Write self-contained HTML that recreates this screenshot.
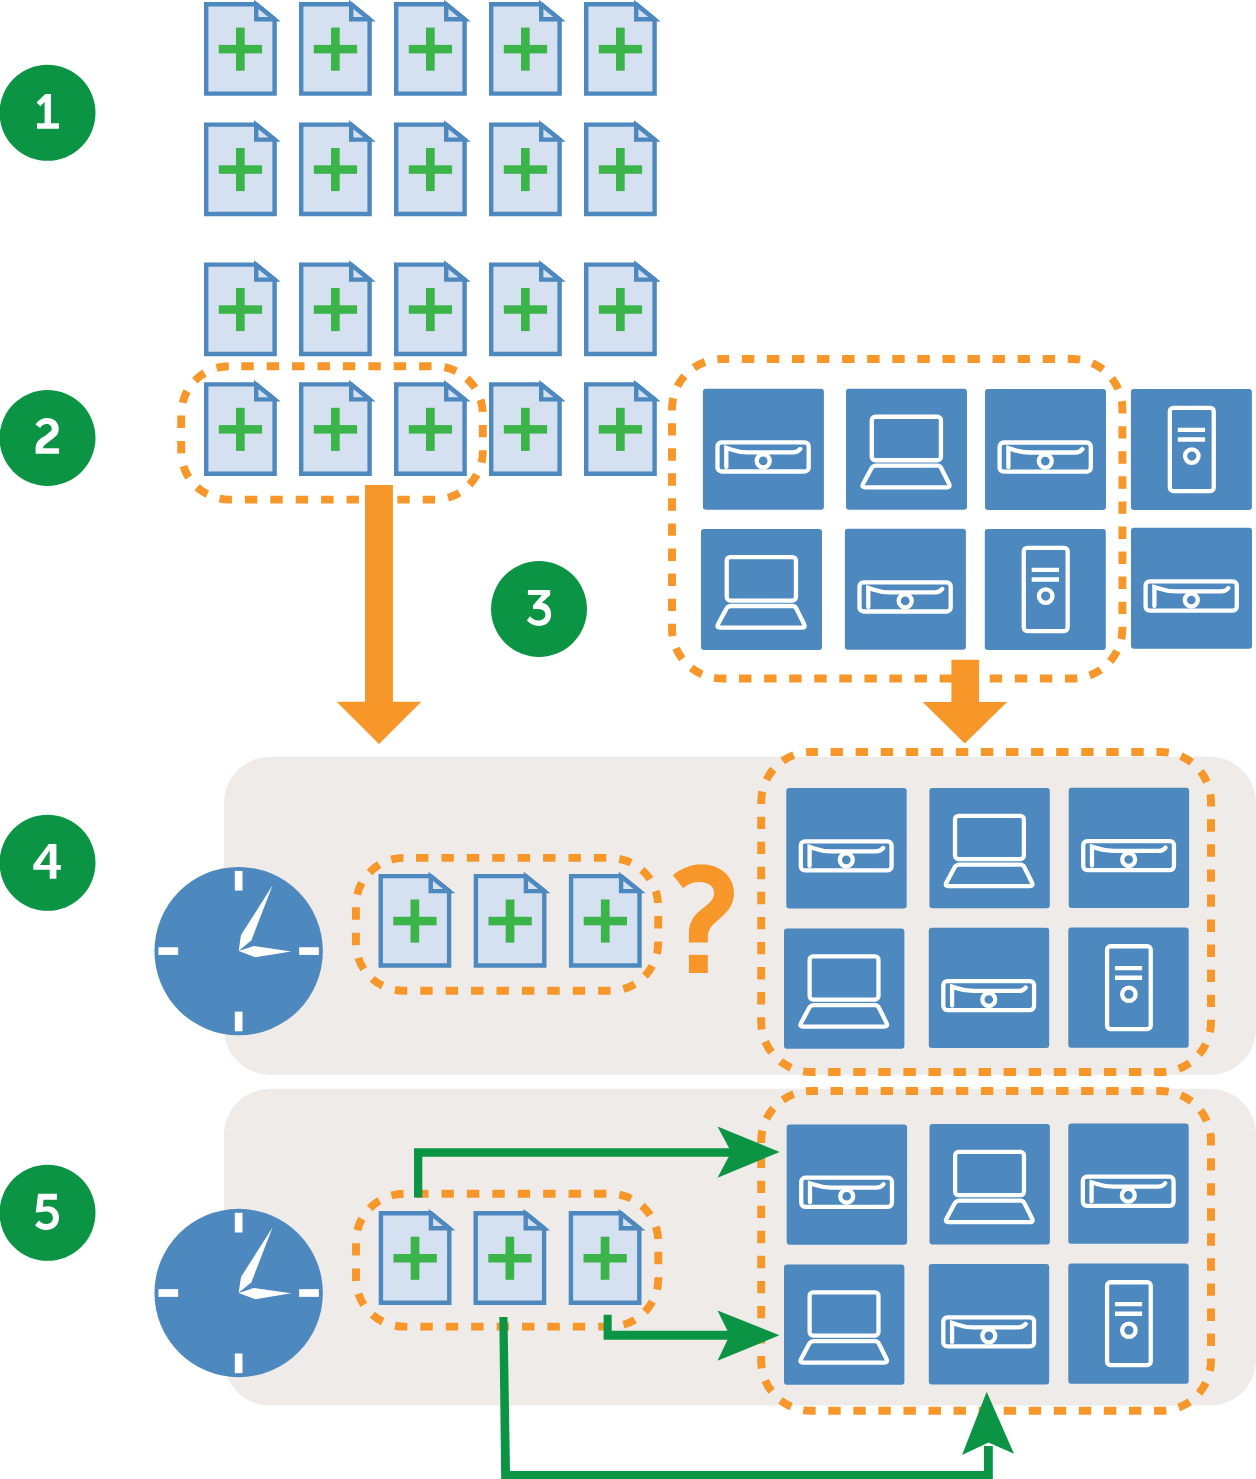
<!DOCTYPE html><html><head><meta charset="utf-8"><style>html,body{margin:0;padding:0;background:#fff;width:1256px;height:1479px;overflow:hidden}svg{display:block}</style></head><body>
<svg width="1256" height="1479" viewBox="0 0 1256 1479">
<defs>
<g id="doc"><path d="M2.2,2.2H52.2L70.6,17.2V91.6H2.2Z" fill="#d5e1f1" stroke="#4d88be" stroke-width="4.4" stroke-miterlimit="10"/><path d="M52.2,2.4V17.2H70.5Z" fill="#d5e1f1" stroke="#4d88be" stroke-width="4.4" stroke-miterlimit="10"/><rect x="32" y="25.6" width="8.7" height="43.1" fill="#3bb44a"/><rect x="14.8" y="42.9" width="43.3" height="8.5" fill="#3bb44a"/></g>
<g id="srv"><rect x="0" y="0" width="121" height="121" rx="3" fill="#4d88be"/><rect x="14.6" y="53.6" width="91.2" height="29.2" rx="4" fill="none" stroke="#fff" stroke-width="4.3"/><circle cx="60.3" cy="72.2" r="6.5" fill="none" stroke="#fff" stroke-width="4.3"/><path d="M23.4,78.3V59.2C30,61 33,63.6 45,63.6L90,63.6C94,63.6 96,62 97.4,60.2" fill="none" stroke="#fff" stroke-width="4.3" stroke-linecap="round"/></g>
<g id="lap"><rect x="0" y="0" width="121" height="121" rx="3" fill="#4d88be"/><rect x="25.75" y="28.05" width="69.2" height="43.5" rx="3.5" fill="none" stroke="#fff" stroke-width="4.3"/><path d="M30.5,77H91.5Q94,77 95.3,79.5L103.3,95.5Q104.5,98.7 101,98.7H19Q15.5,98.7 16.9,95.5L25.5,79.5Q27,77 30.5,77Z" fill="none" stroke="#fff" stroke-width="4.3" stroke-linejoin="round"/></g>
<g id="twr"><rect x="0" y="0" width="121" height="121" rx="3" fill="#4d88be"/><rect x="38.95" y="18.95" width="43.9" height="83.2" rx="3.5" fill="none" stroke="#fff" stroke-width="4.3"/><path d="M46.9,40.9H74.2M46.9,50.6H74.2" fill="none" stroke="#fff" stroke-width="4.3"/><circle cx="60.9" cy="67.2" r="6.75" fill="none" stroke="#fff" stroke-width="4.3"/></g>
<g id="clk"><circle cx="0" cy="0" r="84.2" fill="#4d88be"/><g fill="#fff"><rect x="-3.85" y="-80.2" width="7.7" height="19.7"/><rect x="-3.85" y="60.5" width="7.7" height="19.7"/><rect x="-80.2" y="-3.85" width="19.7" height="7.7"/><rect x="60.5" y="-3.85" width="19.7" height="7.7"/><path d="M33.95,-65.75L12.75,-10.8L0,-0.2L2.35,-16Z"/><path d="M0,0L15.25,-5L52.55,0.3L16.65,6.2Z"/></g></g>
</defs>
<rect x="224" y="756.8" width="1032" height="318" rx="46" fill="#efebe8"/>
<rect x="224" y="1088.8" width="1032" height="316.8" rx="46" fill="#efebe8"/>
<circle cx="47.5" cy="112.8" r="48" fill="#0b9444"/>
<path transform="translate(47.5,112.8)" d="M-2.24,-18.92H3.48V10.48H11.43V16.05H-10.5V10.48H-2.88V-11.13L-7,-6.5L-10.98,-10.34Z" fill="#fff" fill-rule="evenodd"/>
<circle cx="47.5" cy="438" r="48" fill="#0b9444"/>
<path transform="translate(47.5,438)" d="M-11.94,-13.4C-9.5,-17.5 -5,-19.9 -0.34,-19.9C6.5,-19.9 11.27,-15.5 11.27,-9.1C11.27,-5 9.5,-2.5 6.5,-0.2L0.3,4.56C-2.5,6.6 -4.2,8 -4.63,10.28H11.58V15.85H-11.94V10.6C-11.94,6 -10,3.3 -7.96,1.4C-6,-0.4 -4.5,-1 -2.56,-2.1L2.2,-5.93C3.6,-7 4.27,-8 4.27,-9.1C4.27,-12 2,-14.03 -0.97,-14.03C-3.5,-14.03 -5.7,-12.6 -7.33,-10.06Z" fill="#fff" fill-rule="evenodd"/>
<circle cx="539" cy="609" r="48" fill="#0b9444"/>
<path transform="translate(539,609)" d="M-11.1,-19.1H11.2V-13.9L2.9,-6.3C8.5,-5.5 12.1,-1 12.1,5.5C12.1,12.5 7,16.9 -0.1,16.9C-5,16.9 -9.5,14.5 -12,11.2L-8.9,7.3C-7,10 -4,11.5 -0.5,11.5C3.5,11.5 6.4,9 6.4,5.5C6.4,2 3.5,-0.1 -1.5,-0.1H-6V-3.6L2.9,-13.9H-11.1Z" fill="#fff" fill-rule="evenodd"/>
<circle cx="47.5" cy="862.8" r="48" fill="#0b9444"/>
<path transform="translate(47.5,862.8)" d="M1.25,-18.8H8.9V2.2H13.3V7H8.9V16H2.2V7H-14.2V1.9ZM2.2,-12.6L-7.5,2.2H2.2Z" fill="#fff" fill-rule="evenodd"/>
<circle cx="47.5" cy="1212.8" r="48" fill="#0b9444"/>
<path transform="translate(47.5,1212.8)" d="M-9.5,-19H9.4V-13H-4.1L-4.5,-5.8C-3,-6.4 -1.5,-6.6 0.3,-6.6C7,-6.6 11.5,-2 11.5,5C11.5,12 6.5,17.2 -1.3,17.2C-5.5,17.2 -9.5,15.5 -12.5,12.5L-8.5,7.7C-6.5,10 -4,11.3 -1.3,11.3C2.8,11.3 5.4,8.8 5.4,5C5.4,1 2.5,-1.4 -1.7,-1.4C-5,-1.4 -7.5,-0.5 -11.7,-0.3Z" fill="#fff" fill-rule="evenodd"/>
<use href="#doc" x="204" y="2.0"/>
<use href="#doc" x="299" y="2.0"/>
<use href="#doc" x="394" y="2.0"/>
<use href="#doc" x="489" y="2.0"/>
<use href="#doc" x="584" y="2.0"/>
<use href="#doc" x="204" y="122.4"/>
<use href="#doc" x="299" y="122.4"/>
<use href="#doc" x="394" y="122.4"/>
<use href="#doc" x="489" y="122.4"/>
<use href="#doc" x="584" y="122.4"/>
<use href="#doc" x="204" y="262.4"/>
<use href="#doc" x="299" y="262.4"/>
<use href="#doc" x="394" y="262.4"/>
<use href="#doc" x="489" y="262.4"/>
<use href="#doc" x="584" y="262.4"/>
<use href="#doc" x="204" y="382.2"/>
<use href="#doc" x="299" y="382.2"/>
<use href="#doc" x="394" y="382.2"/>
<use href="#doc" x="489" y="382.2"/>
<use href="#doc" x="584" y="382.2"/>
<use href="#doc" x="378.5" y="873.9"/>
<use href="#doc" x="473.7" y="873.9"/>
<use href="#doc" x="568.9" y="873.9"/>
<use href="#doc" x="378.7" y="1211.1"/>
<use href="#doc" x="473.5" y="1211.1"/>
<use href="#doc" x="568.7" y="1211.1"/>
<use href="#srv" transform="translate(702.9,388.7) scale(1.0000)"/>
<use href="#lap" transform="translate(846,388.7) scale(1.0000)"/>
<use href="#srv" transform="translate(985,388.9) scale(1.0000)"/>
<use href="#twr" transform="translate(1130.9,388.9) scale(1.0000)"/>
<use href="#lap" transform="translate(701,529) scale(1.0000)"/>
<use href="#srv" transform="translate(844.9,528.7) scale(1.0000)"/>
<use href="#twr" transform="translate(984.8,528.9) scale(1.0000)"/>
<use href="#srv" transform="translate(1131,527.8) scale(1.0000)"/>
<use href="#srv" transform="translate(786.3,788) scale(0.9950)"/>
<use href="#lap" transform="translate(929.4,787.9) scale(0.9950)"/>
<use href="#srv" transform="translate(1068.7,787.7) scale(0.9950)"/>
<use href="#lap" transform="translate(784,928.4) scale(0.9950)"/>
<use href="#srv" transform="translate(928.8,927.7) scale(0.9950)"/>
<use href="#twr" transform="translate(1068.3,927.4) scale(0.9950)"/>
<use href="#srv" transform="translate(786.7,1124.4) scale(0.9950)"/>
<use href="#lap" transform="translate(929.5,1124) scale(0.9950)"/>
<use href="#srv" transform="translate(1068.3,1123.4) scale(0.9950)"/>
<use href="#lap" transform="translate(784,1264.4) scale(0.9950)"/>
<use href="#srv" transform="translate(928.8,1264) scale(0.9950)"/>
<use href="#twr" transform="translate(1068.3,1263.4) scale(0.9950)"/>
<use href="#clk" x="238.65" y="951.1"/>
<use href="#clk" x="238.65" y="1293.0"/>
<path d="M229.2,366.2H434.8A48,48 0 0 1 482.8,414.2V451.6A48,48 0 0 1 434.8,499.6H229.2A48,48 0 0 1 181.2,451.6V414.2A48,48 0 0 1 229.2,366.2Z" fill="none" stroke="#f7972a" stroke-width="7.9" stroke-dasharray="12.4 13.006" stroke-dashoffset="13.306"/>
<path d="M722,359H1072.4A50,50 0 0 1 1122.4,409V628.5A50,50 0 0 1 1072.4,678.5H722A50,50 0 0 1 672,628.5V409A50,50 0 0 1 722,359Z" fill="none" stroke="#f7972a" stroke-width="7.9" stroke-dasharray="12.4 12.668" stroke-dashoffset="5.200"/>
<path d="M811.2,752H1161A50,50 0 0 1 1211,802V1022A50,50 0 0 1 1161,1072H811.2A50,50 0 0 1 761.2,1022V802A50,50 0 0 1 811.2,752Z" fill="none" stroke="#f7972a" stroke-width="7.9" stroke-dasharray="12.4 12.665" stroke-dashoffset="5.700"/>
<path d="M811.2,1091H1161A50,50 0 0 1 1211,1141V1360.8A50,50 0 0 1 1161,1410.8H811.2A50,50 0 0 1 761.2,1360.8V1141A50,50 0 0 1 811.2,1091Z" fill="none" stroke="#f7972a" stroke-width="7.9" stroke-dasharray="12.4 12.658" stroke-dashoffset="5.700"/>
<path d="M403.9,857.9H610.2A48,48 0 0 1 658.2,905.9V942.8A48,48 0 0 1 610.2,990.8H403.9A48,48 0 0 1 355.9,942.8V905.9A48,48 0 0 1 403.9,857.9Z" fill="none" stroke="#f7972a" stroke-width="7.9" stroke-dasharray="12.4 13.019" stroke-dashoffset="13.319"/>
<path d="M404,1193.8H610.3A48,48 0 0 1 658.3,1241.8V1278.6A48,48 0 0 1 610.3,1326.6H404A48,48 0 0 1 356,1278.6V1241.8A48,48 0 0 1 404,1193.8Z" fill="none" stroke="#f7972a" stroke-width="7.9" stroke-dasharray="12.4 13.013" stroke-dashoffset="13.313"/>
<path d="M365,485.1H392.9V701.8H421.3L379,744L336.7,701.8H365Z" fill="#f7972a"/>
<path d="M951.4,659.7H979.1V702.1H1007.1L964.8,743.5L922.7,702.1H951.4Z" fill="#f7972a"/>
<path d="M672.8,875.1C680,869 692,864.2 701,864.2C720,864.2 734,876 734,893C734,907 725,914 716,922C711,926 707.8,930 707.8,937L707.8,942.6L688.9,942.6L688.9,933C688.9,922 694,915 702,909C710,903 714.1,899 714.1,893C714.1,886 708,882 699,882C692,882 687,885 683.2,888.3Z" fill="#f7972a"/>
<rect x="688.9" y="954.9" width="18.9" height="18.1" fill="#f7972a"/>
<path d="M414,1197.6V1148.2H735V1156.8H422.3V1197.6Z" fill="#0b9444"/>
<path d="M779.6,1152L717.5,1126.6L731.2,1152L717.5,1177.8Z" fill="#0b9444"/>
<path d="M603.6,1314.7H611.7V1330.8H735V1339.7H603.6Z" fill="#0b9444"/>
<path d="M779.4,1335.3L717.5,1310.4L729.7,1335.3L717.5,1360.8Z" fill="#0b9444"/>
<path d="M499.3,1317H507.5L510,1471.1H984V1446H992.8V1479H501.2Z" fill="#0b9444"/>
<path d="M986.7,1391.7L1014,1453.8L988.5,1442.4L962.1,1454.9Z" fill="#0b9444"/>
</svg></body></html>
